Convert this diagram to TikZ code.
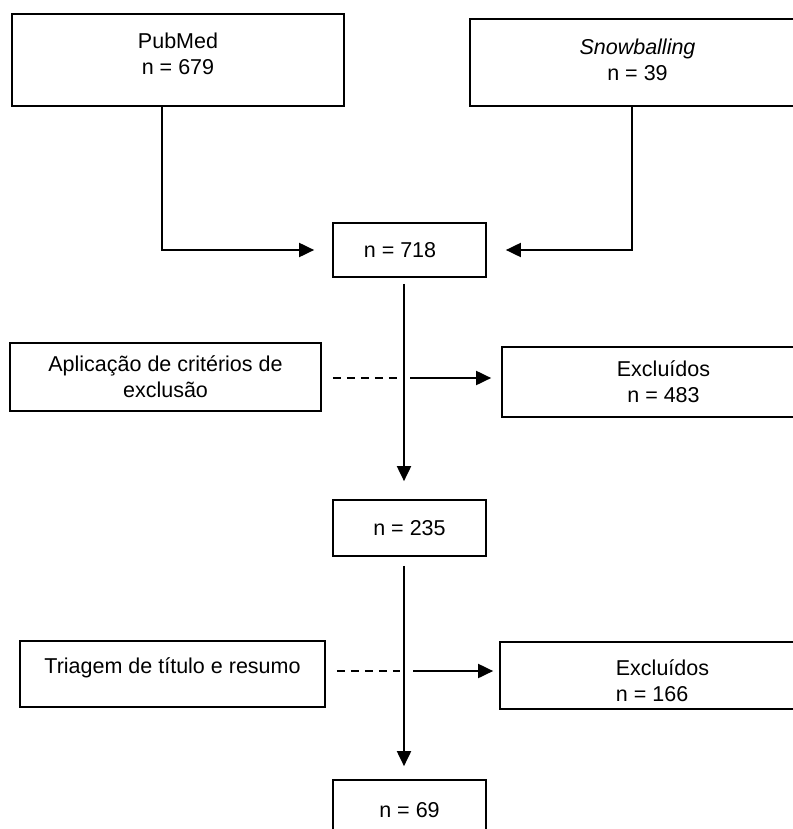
\documentclass[tikz,border=0pt]{standalone}
\usepackage{fontspec}
\setmainfont{Liberation Sans}
\usetikzlibrary{positioning,arrows.meta}

\begin{document}
\begin{tikzpicture}[
    x=1pt, y=-1pt,
    box/.style={draw, rectangle, line width=1.7pt, inner sep=0pt, align=center, font=\fontsize{21.5}{26}\selectfont},
    link/.style={line width=1.9pt, -{Triangle[length=15pt,width=14pt]}},
    dashlink/.style={line width=1.5pt, dash pattern=on 8pt off 6pt}
]
    \useasboundingbox (0,0) rectangle (792,829);

    \node[box, minimum width=332pt, minimum height=92pt, text depth=12pt] (pubmed) at (178,60) {PubMed\\ n = 679};
    \node[box, minimum width=335pt, minimum height=87pt, text depth=5pt] (snow) at (637.5,62.5) {\textit{Snowballing}\\ n = 39};
    \node[box, minimum width=153pt, minimum height=54pt] (n718) at (409.5,250) {n = 718\hspace*{19pt}};

    \node[box, minimum width=311pt, minimum height=68pt] (aplic) at (165.5,377) {Aplicação de critérios de\\ exclusão};
    \node[box, minimum width=323pt, minimum height=70pt] (excl1) at (663.5,382) {Excluídos\\ n = 483};
    \node[box, minimum width=153pt, minimum height=56pt] (n235) at (409.5,528) {n = 235};

    \node[box, minimum width=305pt, minimum height=66pt, text depth=17pt] (triag) at (172.5,674) {Triagem de título e resumo};
    \node[box, minimum width=325pt, minimum height=67pt, align=left, text height=52pt] (excl2) at (662.5,675.5) {Excluídos\\ n = 166};
    \node[box, minimum width=153pt, minimum height=60pt] (n69) at (409.5,810) {n = 69};

    \coordinate (cross1) at (404,378);
    \coordinate (cross2) at (404,671);

    % fontes
    \draw[link, shorten >=18pt] (162,0 |- pubmed.south) |- (n718.west);
    \draw[link, shorten >=19pt] (632,0 |- snow.south) |- (n718.east);

    % etapas
    \draw[link, shorten <=6pt, shorten >=18pt] (n718.south -| cross1) -- (n235.north -| cross1);
    \draw[dashlink, shorten <=11pt, shorten >=7pt] (aplic.east |- cross1) -- (cross1);
    \draw[link, shorten <=6pt, shorten >=10pt] (cross1) -- (excl1.west |- cross1);

    \draw[link, shorten <=9pt, shorten >=13pt] (n235.south -| cross2) -- (n69.north -| cross2);
    \draw[dashlink, shorten <=11pt, shorten >=4pt] (triag.east |- cross2) -- (cross2);
    \draw[link, shorten <=9pt, shorten >=6pt] (cross2) -- (excl2.west |- cross2);
\end{tikzpicture}
\end{document}
